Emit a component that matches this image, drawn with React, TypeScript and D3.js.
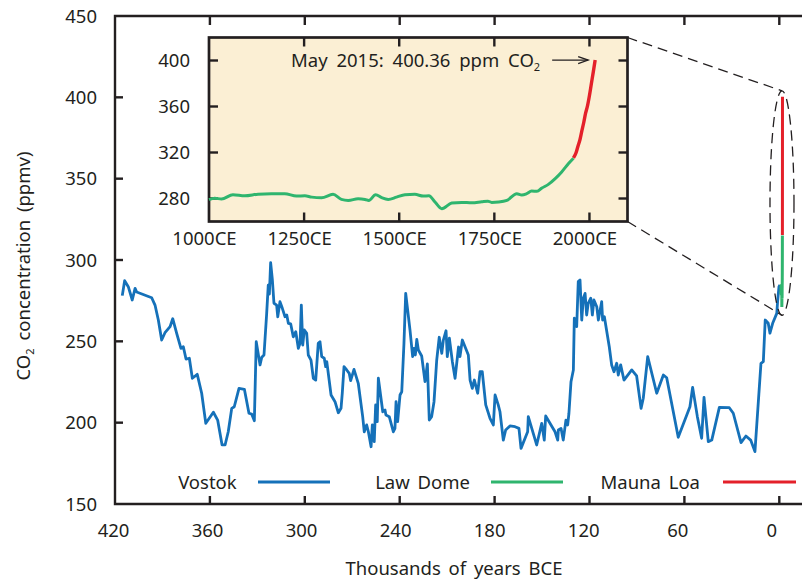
import React from 'react';
import * as d3 from 'd3';

// Vostok ice core: [thousands of years BCE, CO2 ppmv]
const vostok: [number, number][] = [
  [415.4,278.1],[413.9,287.3],[411.6,283.6],[409.1,275.4],[407.3,282.6],[406.3,280.3],[396.8,276.8],[394.7,272.3],[392.6,263.1],[390.5,250.8],
  [388.4,255.3],[385.2,259.0],[383.5,263.9],[381.0,254.9],[378.3,245.7],[376.8,246.7],[375.1,239.1],[373.0,239.6],[371.1,227.3],[368.0,229.7],
  [365.2,218.1],[362.6,199.6],[357.8,206.4],[355.1,201.6],[352.3,186.3],[350.4,186.3],[348.4,194.4],[346.2,208.8],[344.6,209.8],[341.6,221.1],
  [338.2,220.5],[335.3,205.8],[333.6,205.3],[331.9,201.2],[330.7,249.8],[328.3,235.5],[327.2,240.2],[325.8,241.6],[324.1,267.2],[323.1,284.6],
  [322.4,279.1],[321.6,298.3],[320.5,287.7],[319.5,273.4],[317.8,272.3],[317.1,265.1],[315.7,274.4],[314.2,270.3],[312.5,265.1],[311.4,266.2],
  [310.4,261.1],[308.9,260.7],[307.3,252.8],[305.7,255.9],[304.1,245.7],[303.0,248.8],[302.2,272.3],[301.3,247.7],[300.3,257.0],[298.8,254.9],
  [297.8,241.6],[296.1,238.5],[294.6,227.3],[293.1,226.2],[291.5,248.8],[290.4,249.8],[289.3,240.6],[287.7,239.6],[286.8,234.4],[286.1,237.5],
  [283.4,217.0],[280.9,212.9],[278.8,206.1],[277.1,208.8],[276.3,218.1],[275.2,234.4],[273.5,232.4],[271.9,230.3],[271.0,225.8],[268.9,232.8],
  [266.2,224.2],[263.4,203.7],[262.4,194.4],[260.9,198.6],[259.8,194.4],[258.1,185.2],[257.3,198.6],[256.1,188.3],[255.2,210.9],[254.2,200.6],
  [253.5,227.3],[250.7,206.7],[249.3,207.8],[248.7,204.7],[246.6,203.7],[244.0,194.4],[243.0,196.5],[242.3,212.9],[241.3,200.6],[239.8,217.0],
  [238.7,219.0],[237.3,248.8],[236.2,279.5],[233.5,257.0],[231.8,240.6],[231.0,245.7],[230.1,241.6],[229.2,251.2],[228.2,244.7],[226.1,241.0],
  [224.0,225.2],[222.5,236.1],[221.3,201.6],[219.8,203.7],[218.3,212.9],[216.6,238.5],[215.0,252.5],[213.4,242.6],[212.4,250.8],[210.7,256.5],
  [209.9,240.6],[208.6,251.9],[206.7,237.5],[205.0,227.3],[202.8,246.5],[201.9,240.6],[200.4,250.8],[196.6,241.6],[195.5,226.2],[194.1,221.1],
  [192.8,226.2],[190.7,218.1],[189.2,231.3],[187.8,231.3],[185.6,210.9],[182.9,202.7],[180.8,198.6],[179.7,217.0],[177.7,210.9],[176.6,206.7],
  [174.5,189.3],[173.0,195.5],[170.3,198.0],[167.1,197.5],[164.6,196.5],[163.3,184.2],[159.1,194.4],[158.7,203.7],[153.4,186.3],[150.2,199.6],
  [148.6,189.3],[147.7,204.1],[141.8,194.4],[140.1,189.3],[139.7,195.5],[138.0,196.5],[136.6,189.3],[134.9,201.6],[133.8,198.6],[133.0,205.8],
  [131.7,225.2],[130.2,232.4],[129.6,264.2],[128.1,259.0],[127.1,286.7],[126.0,287.7],[124.9,263.1],[123.9,276.5],[122.8,279.5],[121.8,266.2],
  [120.8,273.4],[119.2,276.5],[118.2,266.2],[117.2,275.4],[115.4,271.3],[114.4,263.1],[112.3,274.4],[111.7,263.1],[110.6,265.1],[107.5,246.7],
  [106.0,235.5],[104.5,231.3],[102.8,236.5],[101.8,229.3],[100.3,235.5],[98.2,226.2],[93.3,232.4],[90.2,228.7],[87.4,208.8],[86.0,215.0],
  [83.2,240.6],[77.5,218.1],[73.3,229.3],[71.2,227.6],[63.9,191.0],[56.5,209.8],[54.8,221.7],[51.8,203.7],[49.1,190.4],[47.6,215.6],
  [44.9,188.3],[42.7,189.3],[37.9,209.4],[31.6,209.2],[29.1,205.8],[24.2,187.7],[21.1,191.8],[18.1,189.3],[15.4,182.2],[11.6,236.5],
  [10.1,237.5],[8.9,263.1],[7.0,261.1],[5.9,255.0],[4.2,261.1],[1.6,267.2],[1.0,275.4],[0.2,283.6],[-0.4,284.6]
];

// Law Dome: [year CE, CO2 ppm]
const lawDome: [number, number][] = [
  [1000,279.0],[1015,280.3],[1033,279.5],[1063,283.3],[1094,282.4],[1129,283.8],[1164,284.2],[1199,284.2],[1230,282.1],[1252,282.4],
  [1270,281.2],[1296,280.7],[1326,283.6],[1348,279.2],[1366,278.3],[1392,279.8],[1410,279.2],[1420,278.3],[1438,283.3],[1454,280.7],
  [1471,279.2],[1493,281.2],[1515,283.3],[1541,283.6],[1563,282.1],[1578,282.4],[1594,276.9],[1612,271.1],[1638,276.0],[1664,276.6],
  [1691,276.3],[1717,277.2],[1733,277.7],[1743,276.6],[1761,276.9],[1783,278.3],[1809,284.2],[1822,283.0],[1835,284.2],[1848,286.5],
  [1862,286.2],[1875,289.1],[1892,292.3],[1910,297.3],[1927,303.1],[1945,310.4],[1958,315.0]
];

// Mauna Loa: [year CE, CO2 ppm]
const maunaLoa: [number, number][] = [
  [1958,315.3],[1965,320.0],[1970,325.7],[1975,331.1],[1980,338.8],[1985,346.1],[1990,354.4],[1995,360.8],[2000,369.6],[2005,379.8],[2010,389.9],[2015,400.36]
];

const mainXTicks = [420, 360, 300, 240, 180, 120, 60, 0];
const mainYTicks = [150, 200, 250, 300, 350, 400, 450];
const insetXTicks = [1000, 1250, 1500, 1750, 2000];
const insetYTicks = [280, 320, 360, 400];
const legendLabels = ['Vostok', 'Law Dome', 'Mauna Loa'];

const W = 802, H = 582;
const FONT = '"Noto Sans", "Open Sans", sans-serif';
const INK = '#231f20';
const BLUE = '#1571b9';
const GREEN = '#2fb56e';
const RED = '#e4202a';
const BG = '#fbefd4';
const FS = 18.5;

export default function App() {
  const x = d3.scaleLinear().domain([420, 0]).range([115, 779.3]);
  const y = d3.scaleLinear().domain([150, 450]).range([504, 16]);
  const xi = d3.scaleLinear().domain([1000, 2100]).range([209, 627.5]);
  const yi = d3.scaleLinear().domain([260, 420]).range([221.5, 37.5]);

  const vLine = d3.line<[number, number]>().x(d => x(d[0])).y(d => y(d[1]));
  const ceMain = d3.line<[number, number]>().x(d => x(-d[0] / 1000)).y(d => y(d[1]));
  const ceInset = d3.line<[number, number]>().x(d => xi(d[0])).y(d => yi(d[1])).curve(d3.curveMonotoneX);

  const left = x(420), bottom = y(150), top = y(450);
  const iL = xi(1000), iR = xi(2100), iT = yi(420), iB = yi(260);

  const ex = x(-1.7);
  const eTop = y(404), eBot = y(266);
  const ecy = (eTop + eBot) / 2, ery = (eBot - eTop) / 2, erx = 12;

  const tip: [number, number] = [xi(2015) - 7, yi(400.36)];

  const legendPos = [
    { textEnd: 236.7, x1: 258, x2: 330, color: BLUE },
    { textEnd: 470, x1: 491, x2: 563, color: GREEN },
    { textEnd: 700, x1: 723, x2: 796, color: RED },
  ];
  const legendY = 482;

  return (
    <svg width={W} height={H} style={{ position: 'absolute', left: 0, top: 0, background: '#fff' }}
      fontFamily={FONT} fontSize={FS} fill={INK} wordSpacing={2}>
      <path d={`M${W + 5},${top}H${left}V${bottom}H${W + 5}`} fill="none" stroke={INK} strokeWidth={2.4} />
      {mainXTicks.filter(t => t !== 420).map(t => (
        <g key={'mx' + t}>
          <line x1={x(t)} x2={x(t)} y1={bottom} y2={bottom - 8} stroke={INK} strokeWidth={2.4} />
          <line x1={x(t)} x2={x(t)} y1={top} y2={top + 9} stroke={INK} strokeWidth={2.4} />
        </g>
      ))}
      {mainXTicks.map(t => (
        <text key={'mxl' + t} x={x(t) - 1.5 - ((420 - t) / 420) * 6} y={537} textAnchor="middle">{t}</text>
      ))}
      {mainYTicks.map(t => (
        <g key={'my' + t}>
          {t !== 150 && t !== 450 && <line x1={left} x2={left + 8} y1={y(t)} y2={y(t)} stroke={INK} strokeWidth={2.4} />}
          <text x={97} y={y(t) + 6.5} textAnchor="end">{t}</text>
        </g>
      ))}

      <text x={454} y={575} textAnchor="middle" wordSpacing={3}>Thousands of years BCE</text>
      <text transform={`translate(30,${(top + bottom) / 2 + 6}) rotate(-90)`} textAnchor="middle" wordSpacing={3}>
        CO<tspan fontSize={11} dy={4}>2</tspan><tspan dy={-4}> concentration (ppmv)</tspan>
      </text>

      <path d={vLine(vostok) || ''} fill="none" stroke={BLUE} strokeWidth={2.8} strokeLinejoin="round" />
      <path d={ceMain(lawDome) || ''} fill="none" stroke={GREEN} strokeWidth={3} />
      <path d={ceMain(maunaLoa) || ''} fill="none" stroke={RED} strokeWidth={3} />

      <ellipse cx={ex} cy={ecy} rx={erx} ry={ery} fill="none" stroke={INK} strokeWidth={1.3} strokeDasharray="10,6" />
      <line x1={iR} y1={iT} x2={ex} y2={eTop} stroke={INK} strokeWidth={1.3} strokeDasharray="10,6" />
      <line x1={iR} y1={iB} x2={ex} y2={eBot} stroke={INK} strokeWidth={1.3} strokeDasharray="10,6" />

      <rect x={iL} y={iT} width={iR - iL} height={iB - iT} fill={BG} stroke={INK} strokeWidth={2.7} />
      {insetYTicks.map(t => (
        <g key={'iy' + t}>
          <line x1={iL} x2={iL + 9} y1={yi(t)} y2={yi(t)} stroke={INK} strokeWidth={2.4} />
          <line x1={iR} x2={iR - 9} y1={yi(t)} y2={yi(t)} stroke={INK} strokeWidth={2.4} />
          <text x={190} y={yi(t) + 6.5} textAnchor="end">{t}</text>
        </g>
      ))}
      {insetXTicks.map(t => (
        <g key={'ix' + t}>
          {t !== 1000 && <line x1={xi(t)} x2={xi(t)} y1={iB} y2={iB - 9} stroke={INK} strokeWidth={2.4} />}
          {t !== 1000 && <line x1={xi(t)} x2={xi(t)} y1={iT} y2={iT + 9} stroke={INK} strokeWidth={2.4} />}
          <text x={xi(t) - 4.5} y={245} textAnchor="middle">{t}CE</text>
        </g>
      ))}
      <path d={ceInset(lawDome) || ''} fill="none" stroke={GREEN} strokeWidth={3} strokeLinejoin="round" />
      <path d={ceInset(maunaLoa) || ''} fill="none" stroke={RED} strokeWidth={3.4} />

      <text x={tip[0] - 48} y={tip[1] + 6.5} textAnchor="end" wordSpacing={4}>
        May 2015: 400.36 ppm CO<tspan fontSize={11} dy={4}>2</tspan>
      </text>
      <line x1={tip[0] - 36} x2={tip[0]} y1={tip[1]} y2={tip[1]} stroke={INK} strokeWidth={1.3} />
      <path d={`M${tip[0] - 10},${tip[1] - 3.5}L${tip[0]},${tip[1]}L${tip[0] - 10},${tip[1] + 3.5}`} fill="none" stroke={INK} strokeWidth={1.3} />

      {legendLabels.map((lab, i) => (
        <g key={lab}>
          <text x={legendPos[i].textEnd} y={legendY + 7} textAnchor="end" wordSpacing={3}>{lab}</text>
          <line x1={legendPos[i].x1} x2={legendPos[i].x2} y1={legendY} y2={legendY} stroke={legendPos[i].color} strokeWidth={2.8} />
        </g>
      ))}
    </svg>
  );
}
